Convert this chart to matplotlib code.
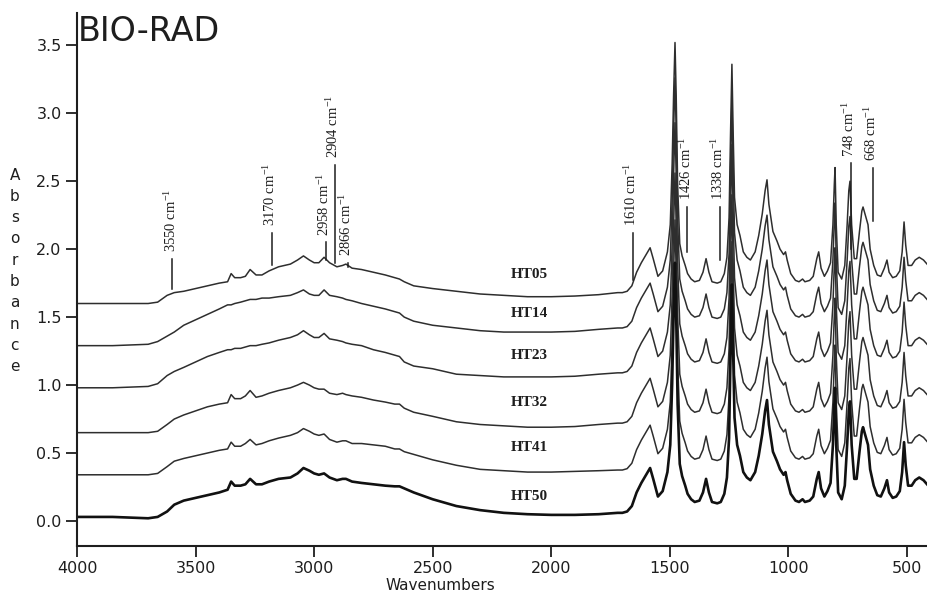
import matplotlib
matplotlib.use("Agg")
import matplotlib.pyplot as plt

plt.rcParams['mathtext.fontset'] = 'stix'

samples = ['HT05', 'HT14', 'HT23', 'HT32', 'HT41', 'HT50']

# O-H / C-H stretching region, one trace per sample (absolute absorbance)
wn_hi = [4000, 3850, 3700, 3660, 3620, 3590, 3550, 3500, 3450, 3400, 3365, 3350,
         3335, 3310, 3290, 3270, 3245, 3220, 3190, 3150, 3100, 3070, 3045, 3020,
         3000, 2980, 2958, 2935, 2904, 2880, 2866, 2840, 2800, 2750, 2700, 2660,
         2640, 2620, 2580, 2500, 2400, 2300, 2200, 2100, 2000, 1900, 1800, 1720]

ht05_hi = [1.60, 1.60, 1.60, 1.61, 1.66, 1.68, 1.69, 1.71, 1.73, 1.75, 1.76, 1.82,
           1.79, 1.79, 1.80, 1.85, 1.81, 1.81, 1.84, 1.87, 1.89, 1.92, 1.95, 1.92,
           1.90, 1.90, 1.94, 1.90, 1.87, 1.88, 1.89, 1.86, 1.85, 1.83, 1.81, 1.79,
           1.78, 1.76, 1.73, 1.71, 1.69, 1.67, 1.66, 1.65, 1.65, 1.655, 1.665, 1.68]
ht14_hi = [1.29, 1.29, 1.30, 1.32, 1.36, 1.39, 1.44, 1.48, 1.52, 1.56, 1.59, 1.59,
           1.60, 1.61, 1.62, 1.63, 1.63, 1.64, 1.64, 1.65, 1.66, 1.68, 1.70, 1.67,
           1.66, 1.66, 1.70, 1.66, 1.65, 1.64, 1.63, 1.62, 1.60, 1.58, 1.56, 1.54,
           1.53, 1.50, 1.47, 1.44, 1.42, 1.40, 1.39, 1.39, 1.39, 1.395, 1.41, 1.42]
ht23_hi = [0.98, 0.98, 0.99, 1.01, 1.07, 1.10, 1.13, 1.17, 1.21, 1.24, 1.26, 1.26,
           1.27, 1.27, 1.28, 1.29, 1.29, 1.30, 1.31, 1.33, 1.35, 1.37, 1.40, 1.37,
           1.35, 1.35, 1.38, 1.34, 1.33, 1.32, 1.31, 1.30, 1.29, 1.26, 1.24, 1.22,
           1.21, 1.17, 1.14, 1.12, 1.08, 1.07, 1.06, 1.06, 1.06, 1.065, 1.08, 1.09]
ht32_hi = [0.65, 0.65, 0.65, 0.66, 0.71, 0.75, 0.78, 0.81, 0.84, 0.86, 0.87, 0.93,
           0.90, 0.90, 0.92, 0.96, 0.91, 0.92, 0.94, 0.96, 0.98, 1.00, 1.02, 1.00,
           0.98, 0.97, 0.97, 0.94, 0.93, 0.94, 0.93, 0.92, 0.91, 0.89, 0.875, 0.86,
           0.86, 0.83, 0.80, 0.77, 0.73, 0.71, 0.70, 0.69, 0.69, 0.695, 0.71, 0.72]
ht41_hi = [0.34, 0.34, 0.34, 0.35, 0.40, 0.44, 0.46, 0.48, 0.50, 0.52, 0.53, 0.58,
           0.55, 0.55, 0.57, 0.60, 0.56, 0.57, 0.59, 0.61, 0.63, 0.65, 0.68, 0.66,
           0.64, 0.63, 0.64, 0.60, 0.58, 0.59, 0.59, 0.57, 0.57, 0.56, 0.55, 0.53,
           0.53, 0.51, 0.49, 0.45, 0.41, 0.38, 0.37, 0.36, 0.36, 0.365, 0.37, 0.375]
ht50_hi = [0.03, 0.03, 0.02, 0.03, 0.07, 0.12, 0.15, 0.17, 0.19, 0.21, 0.23, 0.29,
           0.26, 0.26, 0.27, 0.31, 0.27, 0.27, 0.29, 0.31, 0.32, 0.35, 0.39, 0.37,
           0.35, 0.34, 0.35, 0.32, 0.30, 0.31, 0.31, 0.29, 0.28, 0.27, 0.26, 0.255,
           0.255, 0.24, 0.21, 0.16, 0.11, 0.08, 0.06, 0.05, 0.045, 0.045, 0.05, 0.06]

# fingerprint region, common band profile above each trace's level at 1720 cm-1
wn_fp = [1700, 1680, 1660, 1640, 1620, 1600, 1583, 1570, 1550, 1530,
         1510, 1498, 1490, 1484, 1478, 1473, 1467, 1458, 1448, 1435,
         1425, 1410, 1395, 1375, 1360, 1347, 1335, 1322, 1300, 1285,
         1270, 1259, 1250, 1244, 1238, 1233, 1227, 1216, 1204, 1190,
         1175, 1160, 1140, 1125, 1110, 1098, 1090, 1082, 1065, 1048,
         1035, 1020, 1012, 1005, 990, 970, 955, 940, 930, 910,
         895, 880, 872, 862, 848, 835, 822, 812, 806, 803,
         798, 790, 775, 762, 752, 745, 740, 733, 722, 712,
         700, 690, 685, 672, 664, 655, 640, 625, 610, 595,
         584, 575, 560, 545, 530, 520, 512, 505, 495, 480,
         465, 448, 430, 410]
fp_rel = [0.00, 0.01, 0.05, 0.15, 0.22, 0.28, 0.33, 0.25, 0.12, 0.16,
          0.30, 0.50, 0.95, 1.45, 1.84, 1.45, 0.80, 0.36, 0.27, 0.20,
          0.14, 0.10, 0.08, 0.09, 0.15, 0.25, 0.15, 0.08, 0.07, 0.08,
          0.14, 0.26, 0.55, 1.15, 1.68, 1.20, 0.70, 0.50, 0.42, 0.30,
          0.26, 0.24, 0.30, 0.42, 0.58, 0.75, 0.83, 0.65, 0.45, 0.38,
          0.32, 0.28, 0.30, 0.24, 0.14, 0.09, 0.08, 0.10, 0.08, 0.09,
          0.12, 0.25, 0.30, 0.18, 0.12, 0.16, 0.22, 0.50, 0.80, 0.92,
          0.50, 0.15, 0.10, 0.20, 0.50, 0.75, 0.82, 0.50, 0.25, 0.25,
          0.45, 0.60, 0.63, 0.55, 0.50, 0.32, 0.20, 0.13, 0.12, 0.18,
          0.24, 0.15, 0.11, 0.12, 0.16, 0.30, 0.52, 0.35, 0.20, 0.20,
          0.24, 0.26, 0.24, 0.20]

traces_hi = [ht05_hi, ht14_hi, ht23_hi, ht32_hi, ht41_hi, ht50_hi]

# trace label positions
label_wn = 2094
label_y = [1.81, 1.53, 1.22, 0.87, 0.54, 0.18]

# band markers: label, line x, line bottom/top
band_labels = [3550, 3170, 2958, 2904, 2866, 1610, 1426, 1338, 748, 668]
band_x = [3599, 3178, 2950, 2912, 2857, 1655, 1427, 1288, 736, 643]
band_lo = [1.71, 1.88, 1.92, 1.90, 1.87, 1.77, 1.98, 1.92, 2.00, 2.21]
band_hi = [1.93, 2.12, 2.05, 2.62, 1.90, 2.12, 2.31, 2.31, 2.63, 2.60]

fig = plt.figure(figsize=(9.28, 6.04), dpi=100)
ax = fig.add_axes([0.083, 0.096, 0.917, 0.882])

ink = '#1e1e1e'
for name, hi in zip(samples, traces_hi):
    wn = wn_hi + wn_fp
    absb = hi + [hi[-1] + v for v in fp_rel]
    lw = 1.9 if name == 'HT50' else 1.1
    col = '#111111' if name == 'HT50' else '#2e2e2e'
    ax.plot(wn, absb, color=col, lw=lw, solid_joinstyle='round')

for name, y in zip(samples, label_y):
    ax.text(label_wn, y, name, ha='center', va='center', fontsize=11,
            fontweight='bold', family='Liberation Serif', color=ink)

for lab, x, y0, y1 in zip(band_labels, band_x, band_lo, band_hi):
    ax.plot([x, x], [y0, y1], color=ink, lw=1.1)
    ax.text(x + 8, y1 + 0.05, f'{lab} cm$^{{\\mathregular{{-1}}}}$',
            rotation=90, ha='center', va='bottom', fontsize=10.5,
            family='Liberation Serif', color=ink)

ax.set_xlim(4000, 411)
ax.set_ylim(-0.184, 3.735)
ax.set_xticks([4000, 3500, 3000, 2500, 2000, 1500, 1000, 500])
ax.set_yticks([0.0, 0.5, 1.0, 1.5, 2.0, 2.5, 3.0, 3.5])
ax.set_yticklabels([f'{v:.1f}' for v in ax.get_yticks()])
for side in ['top', 'right']:
    ax.spines[side].set_visible(False)
for side in ['left', 'bottom']:
    ax.spines[side].set_linewidth(1.5)
    ax.spines[side].set_color(ink)
ax.tick_params(direction='out', length=8, width=1.3, colors=ink,
               labelsize=11.5, pad=3)

ax.text(3995, 3.72, 'BIO-RAD', ha='left', va='top', fontsize=24, color=ink)
fig.text(0.475, 0.018, 'Wavenumbers', ha='center', va='bottom', fontsize=11,
         color=ink)
for i, ch in enumerate('Absorbance'):
    fig.text(0.016, 1 - (175 + 21.3 * i) / 604, ch, ha='center', va='center',
             fontsize=11, color=ink)

fig.savefig('out.png', dpi=100)
